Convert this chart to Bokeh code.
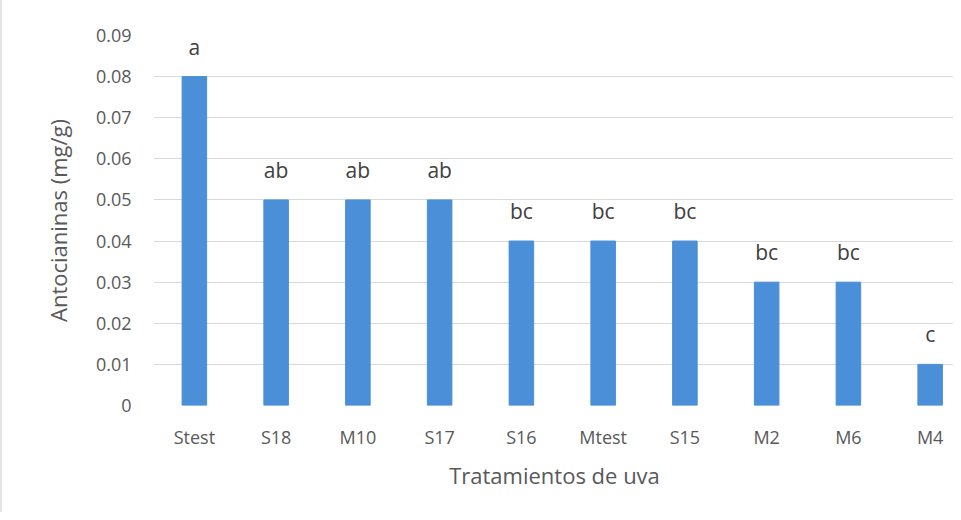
from bokeh.plotting import figure
from bokeh.models import ColumnDataSource, FixedTicker, Range1d
from bokeh.core.properties import value
from bokeh.embed import file_html
from bokeh.resources import INLINE

categories = ["Stest", "S18", "M10", "S17", "S16", "Mtest", "S15", "M2", "M6", "M4"]
values = [0.08, 0.05, 0.05, 0.05, 0.04, 0.04, 0.04, 0.03, 0.03, 0.01]
letters = ["a", "ab", "ab", "ab", "bc", "bc", "bc", "bc", "bc", "c"]
y_ticks = [0.0, 0.01, 0.02, 0.03, 0.04, 0.05, 0.06, 0.07, 0.08, 0.09]
y_tick_labels = ["0", "0.01", "0.02", "0.03", "0.04", "0.05", "0.06", "0.07", "0.08", "0.09"]

xs = list(range(len(categories)))
src = ColumnDataSource(dict(x=xs, v=values, lab=letters))

FONT = "Open Sans"
GREY = "#595959"

p = figure(width=953, height=512, output_backend="svg", toolbar_location=None,
           x_range=Range1d(-0.5, 9.31), y_range=Range1d(0, 0.09),
           min_border_left=151, min_border_top=35, min_border_bottom=107,
           min_border_right=0)
p.outline_line_color = None
p.styles = {"border-left": "2px solid #e3e3e3"}

p.vbar(x="x", top="v", width=0.3, bottom=0, source=src, color="#4a8fd8")
p.text(x="x", y="v", text="lab", source=src, text_align="center",
       text_baseline="alphabetic", y_offset=-30, text_font=value(FONT),
       text_font_size="21px", text_color="#404040")

# y axis
p.yaxis.ticker = FixedTicker(ticks=y_ticks)
p.yaxis.major_label_overrides = {t: l for t, l in zip(y_ticks, y_tick_labels)}
p.yaxis.axis_line_color = None
p.yaxis.major_tick_line_color = None
p.yaxis.minor_tick_line_color = None
p.yaxis.major_label_standoff = 16
p.yaxis.major_label_text_font = FONT
p.yaxis.major_label_text_font_size = "18px"
p.yaxis.major_label_text_color = GREY
p.yaxis.axis_label = "Antocianinas (mg/g)"
p.yaxis.axis_label_text_font = FONT
p.yaxis.axis_label_text_font_size = "22px"
p.yaxis.axis_label_text_font_style = "normal"
p.yaxis.axis_label_text_color = GREY
p.yaxis.axis_label_standoff = 20

# x axis
p.xaxis.ticker = FixedTicker(ticks=xs)
p.xaxis.major_label_overrides = {i: c for i, c in zip(xs, categories)}
p.xaxis.axis_line_color = None
p.xaxis.major_tick_line_color = None
p.xaxis.minor_tick_line_color = None
p.xaxis.major_label_standoff = 13
p.xaxis.major_label_text_font = FONT
p.xaxis.major_label_text_font_size = "18px"
p.xaxis.major_label_text_color = GREY
p.xaxis.axis_label = "Tratamientos de uva"
p.xaxis.axis_label_text_font = FONT
p.xaxis.axis_label_text_font_size = "22px"
p.xaxis.axis_label_text_font_style = "normal"
p.xaxis.axis_label_text_color = GREY
p.xaxis.axis_label_standoff = 8

p.xgrid.grid_line_color = None
p.ygrid.ticker = FixedTicker(ticks=y_ticks)
p.ygrid.grid_line_color = "#d9d9d9"
p.ygrid.grid_line_width = 1

open("out.html", "w").write(file_html(p, INLINE))
